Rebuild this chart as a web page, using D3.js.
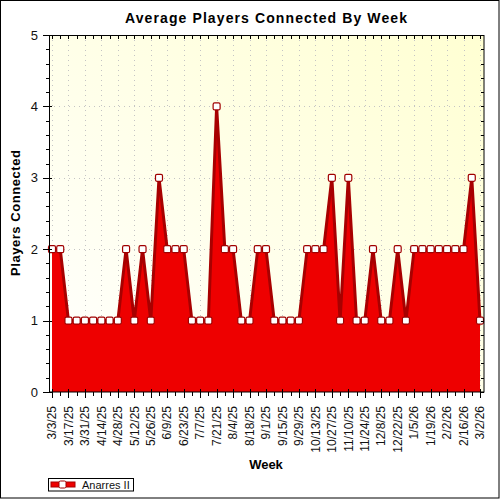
<!DOCTYPE html>
<html><head><meta charset="utf-8">
<script src="https://cdn.jsdelivr.net/npm/d3@7"></script>
<style>body{margin:0;background:#fff}svg{display:block}text{font-family:"Liberation Sans",Arial,sans-serif}</style>
</head><body>
<svg id="c" width="500" height="500"></svg>
<script>
const weeks = ["3/3/25","3/10/25","3/17/25","3/24/25","3/31/25","4/7/25","4/14/25","4/21/25","4/28/25","5/5/25","5/12/25","5/19/25","5/26/25","6/2/25","6/9/25","6/16/25","6/23/25","6/30/25","7/7/25","7/14/25","7/21/25","7/28/25","8/4/25","8/11/25","8/18/25","8/25/25","9/1/25","9/8/25","9/15/25","9/22/25","9/29/25","10/6/25","10/13/25","10/20/25","10/27/25","11/3/25","11/10/25","11/17/25","11/24/25","12/1/25","12/8/25","12/15/25","12/22/25","12/29/25","1/5/26","1/12/26","1/19/26","1/26/26","2/2/26","2/9/26","2/16/26","2/23/26","3/2/26"];
const players = [2,2,1,1,1,1,1,1,1,2,1,2,1,3,2,2,2,1,1,1,4,2,2,1,1,2,2,1,1,1,1,2,2,2,3,1,3,1,1,2,1,1,2,1,2,2,2,2,2,2,2,3,1];
const tickLabels = ["3/3/25","3/17/25","3/31/25","4/14/25","4/28/25","5/12/25","5/26/25","6/9/25","6/23/25","7/7/25","7/21/25","8/4/25","8/18/25","9/1/25","9/15/25","9/29/25","10/13/25","10/27/25","11/10/25","11/24/25","12/8/25","12/22/25","1/5/26","1/19/26","2/2/26","2/16/26","3/2/26"];
const yTicks = [0,1,2,3,4,5];
const yMinor = [0.2,0.4,0.6,0.8,1.2,1.4,1.6,1.8,2.2,2.4,2.6,2.8,3.2,3.4,3.6,3.8,4.2,4.4,4.6,4.8];
const seriesName = "Anarres II";

const svg = d3.select("#c");
const L=49, R=484, T=35, B=392;
const x = d3.scalePoint().domain(weeks).range([52,480]);
const y = d3.scaleLinear().domain([0,5]).range([B,T]);

svg.append("rect").attr("x",0.5).attr("y",0.5).attr("width",498.5).attr("height",497.5).attr("fill","#fff").attr("stroke","#000");

const defs = svg.append("defs");
const g1 = defs.append("linearGradient").attr("id","bg").attr("x1","0").attr("y1","1").attr("x2","1").attr("y2","0");
g1.append("stop").attr("offset","0").attr("stop-color","#ffffff");
g1.append("stop").attr("offset","1").attr("stop-color","#ffffd2");
svg.append("rect").attr("x",L).attr("y",T).attr("width",R-L).attr("height",B-T).attr("fill","url(#bg)");

const grid = svg.append("g").attr("stroke","#c4c4c4").attr("stroke-dasharray","1,4");
grid.selectAll("line.h").data(yTicks.slice(1,5)).join("line")
  .attr("x1",L).attr("x2",R).attr("y1",d=>Math.round(y(d))+0.5).attr("y2",d=>Math.round(y(d))+0.5);
grid.selectAll("line.v").data(tickLabels).join("line")
  .attr("y1",T).attr("y2",B).attr("x1",d=>Math.round(x(d))+0.5).attr("x2",d=>Math.round(x(d))+0.5);

const idx = weeks.map((w,i)=>i);
const area = d3.area().x(i=>x(weeks[i])).y0(B).y1(i=>y(players[i]));
svg.append("path").datum(idx).attr("d",area).attr("fill","#ee0000");
const line = d3.line().x(i=>x(weeks[i])).y(i=>y(players[i]));
svg.append("path").datum(idx).attr("d",line).attr("fill","none").attr("stroke","#a80000").attr("stroke-width",3).attr("stroke-linejoin","miter");

svg.append("g").selectAll("rect").data(idx).join("rect")
  .attr("x",i=>x(weeks[i])-3.5).attr("y",i=>y(players[i])-3.5)
  .attr("width",7).attr("height",7).attr("rx",1.5)
  .attr("fill","#fff").attr("stroke","#a00000").attr("stroke-width",1.2);

svg.append("rect").attr("x",L+0.5).attr("y",T+0.5).attr("width",R-L-0.5).attr("height",B-T-0.5).attr("fill","none").attr("stroke","#000");

const ax = svg.append("g").attr("stroke","#000").attr("shape-rendering","crispEdges");
ax.selectAll("line.bm").data(weeks).join("line")
  .attr("x1",d=>Math.round(x(d))+0.5).attr("x2",d=>Math.round(x(d))+0.5)
  .attr("y1",d=>tickLabels.includes(d)?B-3:B).attr("y2",d=>tickLabels.includes(d)?B+6:B+4);
ax.selectAll("line.tp").data(weeks).join("line")
  .attr("x1",d=>Math.round(x(d))+0.5).attr("x2",d=>Math.round(x(d))+0.5)
  .attr("y1",T).attr("y2",T+4);
ax.selectAll("line.lm").data(yTicks).join("line")
  .attr("y1",d=>Math.round(y(d))+0.5).attr("y2",d=>Math.round(y(d))+0.5)
  .attr("x1",L-6).attr("x2",L+3);
ax.selectAll("line.ln").data(yMinor).join("line")
  .attr("y1",d=>Math.round(y(d))+0.5).attr("y2",d=>Math.round(y(d))+0.5)
  .attr("x1",L-3).attr("x2",L);
ax.selectAll("line.rn").data(yMinor.concat(yTicks)).join("line")
  .attr("y1",d=>Math.round(y(d))+0.5).attr("y2",d=>Math.round(y(d))+0.5)
  .attr("x1",R-3).attr("x2",R);

svg.append("g").selectAll("text").data(yTicks).join("text")
  .attr("x",38).attr("y",d=>y(d)+4.5).attr("text-anchor","end")
  .attr("font-size",13).attr("fill","#111").text(d=>d);

svg.append("g").selectAll("text").data(tickLabels).join("text")
  .attr("transform",d=>`translate(${x(d)},406) rotate(-90)`).attr("dy","0.35em")
  .attr("text-anchor","end").attr("font-size",12).attr("fill","#111").text(d=>d);

svg.append("text").attr("x",266).attr("y",23).attr("text-anchor","middle").attr("font-size",14).attr("font-weight","bold")
  .attr("textLength",282).attr("lengthAdjust","spacing").text("Average Players Connected By Week");
svg.append("text").attr("x",266).attr("y",469).attr("text-anchor","middle").attr("font-size",13).attr("font-weight","bold").text("Week");
svg.append("text").attr("transform","translate(20,213) rotate(-90)").attr("text-anchor","middle").attr("font-size",13).attr("font-weight","bold")
  .attr("textLength",126).attr("lengthAdjust","spacing").text("Players Connected");

const lg = svg.append("g");
lg.append("rect").attr("x",48.5).attr("y",478.5).attr("width",85).attr("height",12.5).attr("fill","#fff").attr("stroke","#000");
lg.append("rect").attr("x",51).attr("y",482).attr("width",24).attr("height",5).attr("fill","#ee0000").attr("stroke","#a80000").attr("stroke-width",1);
lg.append("rect").attr("x",59).attr("y",481).attr("width",7).attr("height",7).attr("rx",1.5).attr("fill","#fff").attr("stroke","#a00000");
lg.append("text").attr("x",82).attr("y",489).attr("font-size",11).attr("fill","#111").text(seriesName);
</script>
</body></html>
